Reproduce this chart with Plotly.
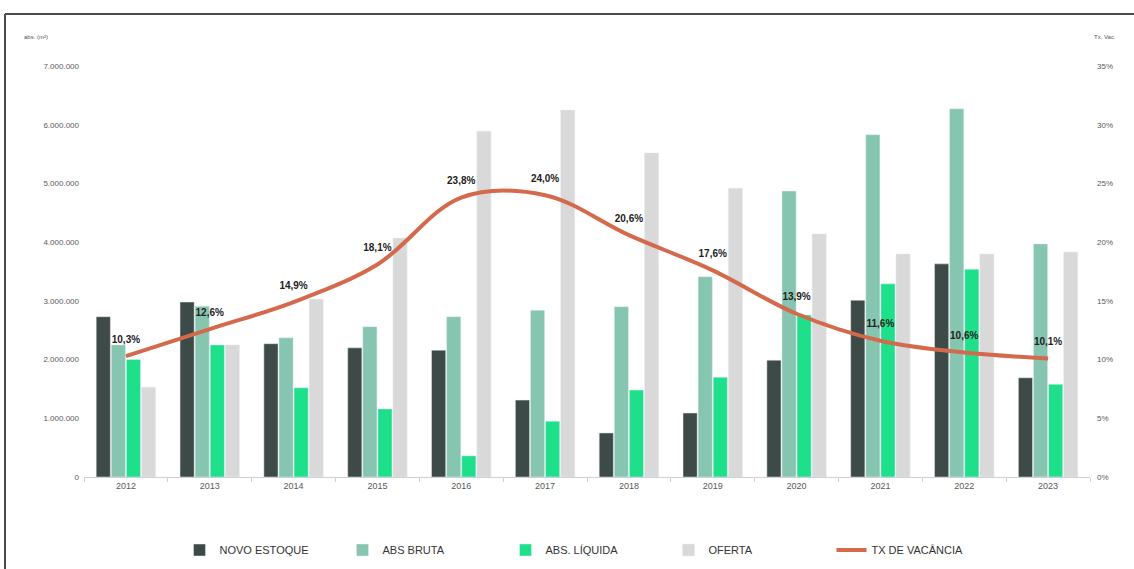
import plotly.graph_objects as go

years = ["2012", "2013", "2014", "2015", "2016", "2017", "2018", "2019", "2020", "2021", "2022", "2023"]
novo_estoque = [2730000, 2980000, 2270000, 2200000, 2160000, 1310000, 750000, 1090000, 1990000, 3010000, 3630000, 1690000]
abs_bruta = [2250000, 2910000, 2370000, 2560000, 2730000, 2840000, 2900000, 3410000, 4870000, 5830000, 6270000, 3970000]
abs_liquida = [2000000, 2250000, 1520000, 1160000, 360000, 950000, 1480000, 1700000, 2760000, 3290000, 3540000, 1580000]
oferta = [1530000, 2250000, 3030000, 4070000, 5890000, 6250000, 5520000, 4920000, 4140000, 3800000, 3800000, 3830000]
tx_vacancia = [0.103, 0.126, 0.149, 0.181, 0.238, 0.240, 0.206, 0.176, 0.139, 0.116, 0.106, 0.101]

W, H = 1134, 569
L, R, T, B = 84, 44, 66, 92
pw, ph = W - L - R, H - T - B

def px(x):
    return (x - L) / pw

def py(y):
    return (H - B - y) / ph

fig = go.Figure()
fig.add_bar(x=years, y=novo_estoque, name="NOVO ESTOQUE", marker_color="#3d4a47")
fig.add_bar(x=years, y=abs_bruta, name="ABS BRUTA", marker_color="#86c5b0")
fig.add_bar(x=years, y=abs_liquida, name="ABS. LÍQUIDA", marker_color="#1ee08a")
fig.add_bar(x=years, y=oferta, name="OFERTA", marker_color="#d9d9d9")
fig.add_scatter(x=years, y=tx_vacancia, name="TX DE VACÂNCIA", yaxis="y2", mode="lines",
                line=dict(color="#d4694b", width=4, shape="spline", smoothing=1.0))
fig.add_scatter(x=years, y=tx_vacancia, yaxis="y2", mode="markers+text", showlegend=False,
                hoverinfo="skip", marker=dict(size=16, opacity=0, color="#d4694b"),
                texttemplate="<b>%{y:.1%}</b>", textposition="top center",
                textfont=dict(size=10, color="#222222", family="Liberation Sans"))

fig.update_layout(
    width=W, height=H,
    margin=dict(l=L, r=R, t=T, b=B, autoexpand=False),
    paper_bgcolor="white", plot_bgcolor="white",
    separators=",.",
    barmode="group", bargap=0.28, bargroupgap=0.06,
    font=dict(family="Liberation Sans", size=9, color="#595959"),
    xaxis=dict(range=[-0.5, len(years) - 0.5], showline=True, linecolor="#d0d0d0",
               ticks="outside", tickcolor="#d0d0d0",
               ticklen=4, tickson="boundaries", showgrid=False, automargin=False,
               tickfont=dict(size=9, color="#595959")),
    yaxis=dict(range=[0, 7000000], dtick=1000000, tickformat=",d", showgrid=False,
               zeroline=False, automargin=False, tickfont=dict(size=8, color="#595959"),
               ticklabelstandoff=4),
    yaxis2=dict(range=[0, 0.35], dtick=0.05, tickformat=".0%", overlaying="y", side="right",
                showgrid=False, zeroline=False, automargin=False,
                tickfont=dict(size=8, color="#595959"), ticklabelstandoff=6),
    legend=dict(orientation="h", x=0.5, xanchor="center", y=(H - 550) / H, yanchor="middle",
                yref="container", entrywidth=118, traceorder="normal",
                font=dict(size=11, color="#333333", family="Liberation Sans")),
    showlegend=True,
)

fig.add_annotation(text="abs. (m²)", x=px(22), y=py(37), xref="paper", yref="paper",
                   xanchor="left", yanchor="middle", showarrow=False,
                   font=dict(size=6, color="#555555"))
fig.add_annotation(text="Tx. Vac.", x=px(1092), y=py(37), xref="paper", yref="paper",
                   xanchor="left", yanchor="middle", showarrow=False,
                   font=dict(size=6, color="#555555"))

# screenshot frame edges
fig.add_shape(type="line", xref="paper", yref="paper", x0=px(5), x1=px(1140), y0=py(14), y1=py(14),
              line=dict(color="#4a4a4a", width=2))
fig.add_shape(type="line", xref="paper", yref="paper", x0=px(5), x1=px(5), y0=py(14), y1=py(575),
              line=dict(color="#4a4a4a", width=2))

fig.write_html("out.html")
